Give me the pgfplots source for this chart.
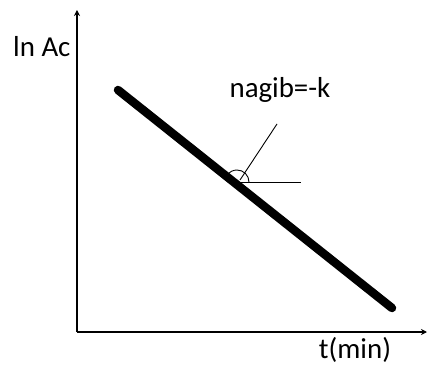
\documentclass[border=0pt]{standalone}
\usepackage{pgfplots}
\pgfplotsset{compat=1.18}
\usepackage{fontspec}
\setmainfont{Carlito}
\usetikzlibrary{arrows.meta}
\begin{document}
\begin{tikzpicture}
\begin{axis}[
  scale only axis, width=350bp, height=322bp,
  xmin=0, xmax=350, ymin=0, ymax=322,
  axis lines=left,
  axis line style={line width=1.3bp, -{Stealth[length=6bp,width=6bp]}},
  xtick=\empty, ytick=\empty,
  clip=false,
]
\path (axis cs:-77,-35) rectangle (axis cs:351,332);
\addplot[black, line width=8.5bp, line cap=round] coordinates {(41,242) (315,24)};
\draw[line width=0.9bp] (axis cs:158,150) -- (axis cs:224,150);
\draw[line width=0.9bp] (axis cs:200,208) -- (axis cs:163,152);
\draw[line width=0.9bp] (axis cs:172,150) arc[start angle=0, end angle=141, radius=12bp];
\node[anchor=west, font=\fontsize{29}{32}\selectfont, inner sep=0pt] at (axis cs:-64,285) {ln Ac};
\node[font=\fontsize{29}{32}\selectfont, inner sep=0pt] at (axis cs:278,-18) {t(min)};
\node[font=\fontsize{29}{32}\selectfont, inner sep=0pt] at (axis cs:203,242) {nagib=-k};
\end{axis}
\end{tikzpicture}
\end{document}
